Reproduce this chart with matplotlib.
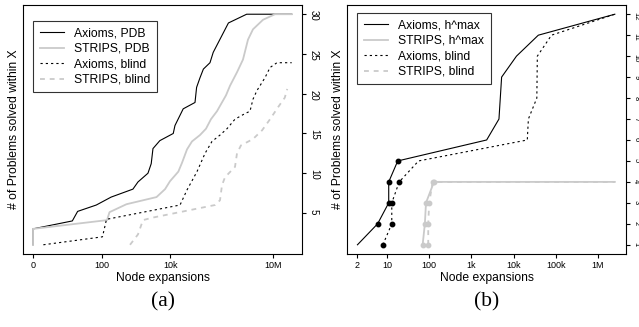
import matplotlib
matplotlib.use("Agg")
import matplotlib.pyplot as plt

plt.rcParams["font.family"] = ["Liberation Sans", "DejaVu Sans"]
plt.rcParams["lines.scale_dashes"] = False

# Panel (a): node expansions vs. number of problems solved
a_axioms_pdb_x = [1, 1, 14, 20, 70, 190, 820, 1150, 2250, 2800, 3150, 5000, 12300, 13800,
                  24000, 53000, 59000, 74000, 93000, 145000, 180000, 500000, 1.7e6, 3.5e7]
a_axioms_pdb_y = [1, 3, 4, 5.2, 6, 7, 8, 8.9, 10, 11.2, 13.1, 14.1, 15, 16,
                  18.1, 18.9, 20.8, 22, 23.1, 23.9, 25.2, 28.9, 30, 30]
a_strips_pdb_x = [1, 1, 144, 170, 530, 4000, 7100, 9900, 17300, 22100, 31000, 43300, 74000,
                  111000, 155000, 232000, 425000, 556000, 889000, 1.33e6, 1.86e6, 2.6e6,
                  5.1e6, 1.14e7, 3.5e7]
a_strips_pdb_y = [1, 3, 4.1, 5.1, 6.1, 7, 8, 9, 10.2, 11.3, 13, 14, 14.8,
                  15.6, 16.8, 17.8, 19.8, 21, 22.7, 24.3, 26.8, 28.1,
                  29.3, 30, 30]
a_axioms_blind_x = [2, 106, 139, 19400, 31000, 60600, 104000, 166000, 284000, 455000, 778000,
                    1.52e6, 2.13e6, 2.6e6, 3.4e6, 5.8e6, 8.2e6, 1.3e7, 3.5e7]
a_axioms_blind_y = [1, 2, 4.2, 6, 7.9, 10.2, 12.5, 14, 14.8, 15.6, 16.8,
                    17.5, 17.8, 19.3, 20.4, 22, 23.3, 23.9, 23.9]
a_strips_blind_x = [675, 1150, 1610, 2950, 203000, 284000, 325000, 398000, 778000, 889000,
                    1.16e6, 2.6e6, 4.8e6, 8.2e6, 1.4e7, 2.2e7, 2.6e7]
a_strips_blind_y = [1, 2.3, 4.1, 4.4, 6, 6.6, 8.5, 9.5, 10.8, 12.5,
                    13.5, 14.3, 15.4, 16.8, 18.3, 19.5, 20.6]

# Panel (b)
b_axioms_hmax_x = [2, 6, 11, 11, 18, 2300, 4500, 5200, 11700, 38500, 2.5e6]
b_axioms_hmax_y = [1, 2, 3, 4, 5, 6, 7, 9, 10, 11, 12]
b_strips_hmax_x = [70, 79, 84, 130, 2.5e6]
b_strips_hmax_y = [1, 2, 3, 4, 4]
b_axioms_blind_x = [8, 13, 13, 19.5, 56, 21100, 22400, 35500, 36500, 79000, 2.5e6]
b_axioms_blind_y = [1, 2, 3, 4, 5, 6, 7, 8, 10, 11, 12]
b_strips_blind_x = [95, 95, 100, 121, 2.5e6]
b_strips_blind_y = [1, 2, 3, 4, 4]

a_xticks = [1, 100, 1e4, 1e7]
a_xticklabels = ["0", "100", "10k", "10M"]
a_yticks = [5, 10, 15, 20, 25, 30]
b_xticks = [2, 10, 100, 1e3, 1e4, 1e5, 1e6]
b_xticklabels = ["2", "10", "100", "1k", "10k", "100k", "1M"]
b_yticks = list(range(1, 13))

GRAY = "#cacaca"
W, H = 639, 327
DOTTED = (0, (1.6, 2.2))
DASHED = (0, (3.5, 3.5))


def style_axes(ax, xticks, xticklabels, yticks, ysize, ypad):
    ax.set_xscale("log")
    ax.minorticks_off()
    ax.set_xticks(xticks)
    ax.set_xticklabels(xticklabels)
    ax.yaxis.tick_right()
    ax.set_yticks(yticks)
    ax.tick_params(axis="both", direction="out", length=3, width=0.8, pad=2)
    ax.tick_params(axis="x", labelsize=6.5)
    ax.tick_params(axis="y", labelrotation=-90, labelsize=ysize, pad=ypad)
    for s in ax.spines.values():
        s.set_linewidth(0.8)
    ax.set_xlabel("Node expansions", fontsize=8.7, labelpad=1.5)
    ax.text(-0.034, 0.5, "# of Problems solved within X", transform=ax.transAxes,
            rotation=90, ha="center", va="center", fontsize=8.7)


def add_legend(ax, anchor):
    leg = ax.legend(loc="upper left", bbox_to_anchor=anchor, borderaxespad=0,
                    fontsize=8.7, frameon=True, fancybox=False, edgecolor="black",
                    handlelength=2.0, handletextpad=0.85, labelspacing=0.28,
                    borderpad=0.55)
    leg.get_frame().set_linewidth(0.8)


def dots(ax, x, y, idx, color):
    ax.plot([x[i] for i in idx], [y[i] for i in idx], linestyle="none",
            marker="o", markersize=3.2, color=color)


fig = plt.figure(figsize=(W / 100, H / 100), dpi=100)
ax_a = fig.add_axes([23 / W, 1 - 254 / H, 279 / W, 249 / H])
ax_b = fig.add_axes([347 / W, 1 - 254 / H, 279 / W, 249 / H])

# (a)
ax_a.plot(a_axioms_pdb_x, a_axioms_pdb_y, color="black", lw=0.8, label="Axioms, PDB")
ax_a.plot(a_strips_pdb_x, a_strips_pdb_y, color=GRAY, lw=1.3, label="STRIPS, PDB")
ax_a.plot(a_axioms_blind_x, a_axioms_blind_y, color="black", lw=0.8,
          linestyle=DOTTED, label="Axioms, blind")
ax_a.plot(a_strips_blind_x, a_strips_blind_y, color=GRAY, lw=1.3,
          linestyle=DASHED, label="STRIPS, blind")
style_axes(ax_a, a_xticks, a_xticklabels, a_yticks, 7, 2)
ax_a.set_xlim(0.51, 7e7)
ax_a.set_ylim(-0.16, 31.16)
add_legend(ax_a, (0.036, 0.936))

# (b)
ax_b.plot(b_axioms_hmax_x, b_axioms_hmax_y, color="black", lw=0.8, label="Axioms, h^max")
ax_b.plot(b_strips_hmax_x, b_strips_hmax_y, color=GRAY, lw=1.3, label="STRIPS, h^max")
ax_b.plot(b_axioms_blind_x, b_axioms_blind_y, color="black", lw=0.8,
          linestyle=DOTTED, label="Axioms, blind")
ax_b.plot(b_strips_blind_x, b_strips_blind_y, color=GRAY, lw=1.3,
          linestyle=DASHED, label="STRIPS, blind")
dots(ax_b, b_strips_hmax_x, b_strips_hmax_y, [0, 1, 2, 3], GRAY)
dots(ax_b, b_strips_blind_x, b_strips_blind_y, [0, 1, 2, 3], GRAY)
dots(ax_b, b_axioms_hmax_x, b_axioms_hmax_y, [1, 2, 3, 4], "black")
dots(ax_b, b_axioms_blind_x, b_axioms_blind_y, [0, 1, 2, 3], "black")
style_axes(ax_b, b_xticks, b_xticklabels, b_yticks, 5.5, 1.5)
ax_b.set_xlim(1.13, 4.6e6)
ax_b.set_ylim(0.56, 12.44)
add_legend(ax_b, (0.036, 0.968))

fig.text(162.5 / W, 1 - 302 / H, "(a)", ha="center", va="center", fontsize=15.5,
         family="Liberation Serif")
fig.text(486.5 / W, 1 - 302 / H, "(b)", ha="center", va="center", fontsize=15.5,
         family="Liberation Serif")

fig.savefig("out.png", dpi=100)
